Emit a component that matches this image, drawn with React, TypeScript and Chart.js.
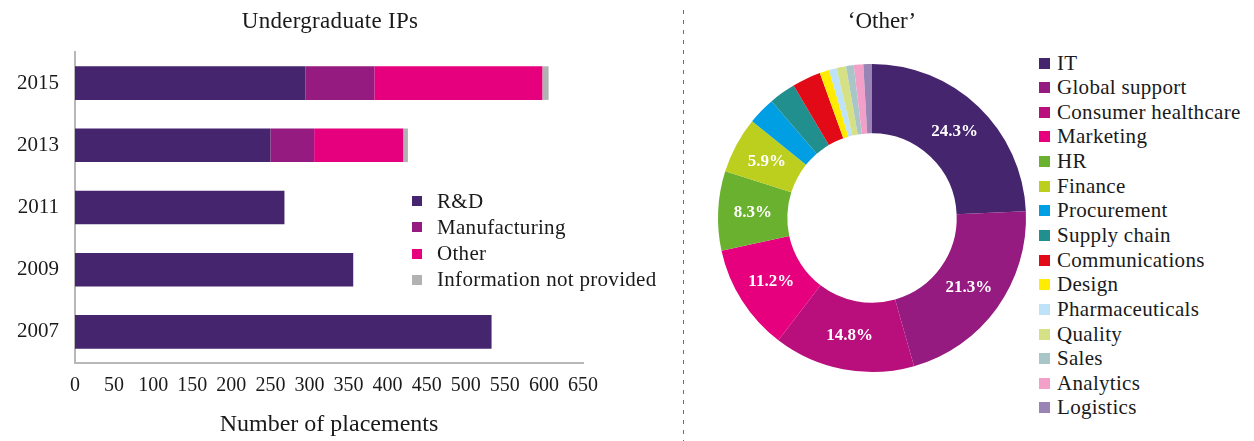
import React, { useEffect, useRef } from 'react';
import { Chart, registerables } from 'chart.js';
Chart.register(...registerables);

// ---------- Data ----------
const years = ['2015', '2013', '2011', '2009', '2007'];
const rnd = [295, 250, 268, 356, 533];
const manufacturing = [88, 56, null, null, null];
const otherPlacements = [215, 114, null, null, null];
const notProvided = [8, 6, null, null, null];
const leftSeriesNames = ['R&D', 'Manufacturing', 'Other', 'Information not provided'];
const leftColors = ['#46256f', '#951b81', '#e6007e', '#b2b2b2'];
const xMax = 650;
const xStep = 50;

const otherCategories = [
  'IT', 'Global support', 'Consumer healthcare', 'Marketing', 'HR', 'Finance',
  'Procurement', 'Supply chain', 'Communications', 'Design', 'Pharmaceuticals',
  'Quality', 'Sales', 'Analytics', 'Logistics',
];
const otherShares = [24.3, 21.3, 14.8, 11.2, 8.3, 5.9, 2.9, 2.8, 3.0, 1.0, 0.8, 1.0, 0.8, 1.0, 0.9];
const otherColors = [
  '#46256f', '#951b81', '#b90f7c', '#e6007e', '#6ab130', '#bccf1f',
  '#009fe3', '#218f8e', '#e30a17', '#ffec00', '#bee3f8',
  '#d6e085', '#a8c6c8', '#f3a0c8', '#9a84b5',
];
const labelThreshold = 5;

const FONT = "'Liberation Serif', 'Times New Roman', serif";
const TEXT = '#1a1a1a';

const pctLabels = {
  id: 'pctLabels',
  afterDatasetsDraw(chart: any) {
    const ctx = chart.ctx;
    const meta = chart.getDatasetMeta(0);
    const data = chart.data.datasets[0].data as number[];
    ctx.save();
    ctx.fillStyle = '#ffffff';
    ctx.font = `bold 17px ${FONT}`;
    ctx.textAlign = 'center';
    ctx.textBaseline = 'middle';
    meta.data.forEach((arc: any, i: number) => {
      if (data[i] < labelThreshold) return;
      const p = arc.tooltipPosition();
      ctx.fillText(data[i].toFixed(1) + '%', p.x, p.y);
    });
    ctx.restore();
  },
};

export default function App() {
  const leftRef = useRef<HTMLCanvasElement>(null);
  const rightRef = useRef<HTMLCanvasElement>(null);

  useEffect(() => {
    const left = new Chart(leftRef.current!, {
      type: 'bar',
      data: {
        labels: years,
        datasets: [rnd, manufacturing, otherPlacements, notProvided].map((d, i) => ({
          label: leftSeriesNames[i],
          data: d,
          backgroundColor: leftColors[i],
          borderWidth: 0,
          categoryPercentage: 1,
          barPercentage: 0.54,
        })),
      },
      options: {
        indexAxis: 'y',
        responsive: false,
        animation: false,
        layout: { padding: { top: 52, right: 97, bottom: 0, left: 0 } },
        plugins: { legend: { display: false }, tooltip: { enabled: false }, title: { display: false } },
        scales: {
          x: {
            stacked: true,
            min: 0,
            max: xMax,
            ticks: {
              stepSize: xStep,
              autoSkip: false,
              maxRotation: 0,
              color: TEXT,
              font: { family: FONT, size: 20 },
              padding: 11,
            },
            grid: { display: false, drawTicks: false },
            border: { color: '#b8b8b8', width: 2 },
            title: {
              display: true,
              text: 'Number of placements',
              color: TEXT,
              font: { family: FONT, size: 24 },
              padding: { top: 2, bottom: 2 },
            },
            afterFit: (s: any) => { s.height = 78; },
          },
          y: {
            stacked: true,
            ticks: { color: TEXT, font: { family: FONT, size: 21 }, padding: 16 },
            grid: { display: false, drawTicks: false },
            border: { color: '#b8b8b8', width: 2 },
            afterFit: (s: any) => { s.width = 75; },
          },
        },
      },
    } as any);

    const right = new Chart(rightRef.current!, {
      type: 'doughnut',
      data: {
        labels: otherCategories,
        datasets: [{ data: otherShares, backgroundColor: otherColors, borderWidth: 0 }],
      },
      options: {
        responsive: false,
        animation: false,
        cutout: '55%',
        layout: { padding: 8 },
        plugins: { legend: { display: false }, tooltip: { enabled: false } },
      },
      plugins: [pctLabels],
    } as any);

    return () => { left.destroy(); right.destroy(); };
  }, []);

  const textStyle: React.CSSProperties = { position: 'absolute', fontFamily: FONT, color: TEXT, whiteSpace: 'nowrap', lineHeight: 1 };

  return (
    <div style={{ position: 'fixed', left: 0, top: 0, width: 1254, height: 441, background: '#fff', overflow: 'hidden' }}>
      <canvas ref={leftRef} width={680} height={441} style={{ position: 'absolute', left: 0, top: 0 }} />
      <div style={{ ...textStyle, left: 180, width: 300, textAlign: 'center', top: 9, fontSize: 23, letterSpacing: 0.3 }}>Undergraduate IPs</div>
      {leftSeriesNames.map((n, i) => (
        <div key={n} style={{ position: 'absolute', left: 412, top: 190 + i * 26.3, height: 22, display: 'flex', alignItems: 'center' }}>
          <div style={{ width: 10, height: 10, background: leftColors[i], marginRight: 15 }} />
          <span style={{ fontFamily: FONT, color: TEXT, fontSize: 21, letterSpacing: 0.3, whiteSpace: 'nowrap' }}>{n}</span>
        </div>
      ))}

      <div style={{ position: 'absolute', left: 683, top: 10, width: 1, height: 431, background: 'repeating-linear-gradient(to bottom, #cf3a78 0px, #cf3a78 4px, transparent 4px, transparent 10px)' }} />

      <canvas ref={rightRef} width={324} height={324} style={{ position: 'absolute', left: 710, top: 56 }} />
      <div style={{ ...textStyle, left: 782, width: 200, textAlign: 'center', top: 9, fontSize: 23 }}>‘Other’</div>
      {otherCategories.map((n, i) => (
        <div key={n} style={{ position: 'absolute', left: 1039, top: 52 + i * 24.64, height: 22, display: 'flex', alignItems: 'center' }}>
          <div style={{ width: 11, height: 11, background: otherColors[i], marginRight: 7 }} />
          <span style={{ fontFamily: FONT, color: TEXT, fontSize: 21, letterSpacing: 0.3, whiteSpace: 'nowrap' }}>{n}</span>
        </div>
      ))}
    </div>
  );
}
